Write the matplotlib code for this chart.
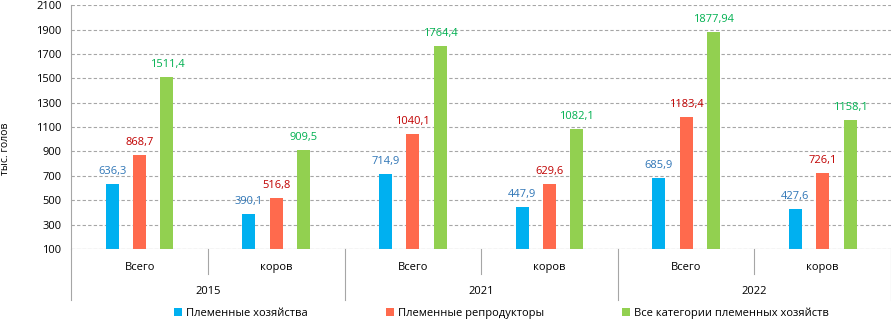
import matplotlib.pyplot as plt
import numpy as np

plt.rcParams['font.family'] = ['Open Sans', 'DejaVu Sans']

years = ['2015', '2021', '2022']
groups = ['Всего', 'коров']
series_names = ['Племенные хозяйства', 'Племенные репродукторы', 'Все категории племенных хозяйств']
plem_hoz = [636.3, 390.1, 714.9, 447.9, 685.9, 427.6]
plem_repr = [868.7, 516.8, 1040.1, 629.6, 1183.4, 726.1]
vse_kat = [1511.4, 909.5, 1764.4, 1082.1, 1877.94, 1158.1]
value_labels = [
    ['636,3', '390,1', '714,9', '447,9', '685,9', '427,6'],
    ['868,7', '516,8', '1040,1', '629,6', '1183,4', '726,1'],
    ['1511,4', '909,5', '1764,4', '1082,1', '1877,94', '1158,1'],
]

bar_colors = ['#00B0F0', '#FF6A4D', '#92D050']
text_colors = ['#2E75B6', '#C00000', '#00B050']
grey = '#A6A6A6'

fig = plt.figure(figsize=(8.91, 3.2), dpi=100)
ax = fig.add_axes([0.08, 0.222, 0.92, 0.762])

x = np.arange(len(plem_hoz))
width = 0.095
offsets = [-0.2, 0.0, 0.2]
base = 100
for i, vals in enumerate([plem_hoz, plem_repr, vse_kat]):
    vals = np.array(vals)
    ax.bar(x + offsets[i], vals - base, width, bottom=base, color=bar_colors[i],
           label=series_names[i], zorder=3)
    for xi, v, lab in zip(x, vals, value_labels[i]):
        ax.annotate(lab, (xi + offsets[i], v), xytext=(0, 5), textcoords='offset points',
                    ha='center', va='bottom', fontsize=8, color=text_colors[i])

ax.set_xlim(-0.5, len(x) - 0.5)
ax.set_ylim(100, 2100)
ax.set_yticks(np.arange(100, 2101, 200))
ax.tick_params(axis='y', labelsize=8, length=0, pad=7)
ax.set_xticks([])
ax.grid(axis='y', linestyle=(0, (3, 2)), color=grey, linewidth=0.8, zorder=0)
for s in ['top', 'right', 'bottom']:
    ax.spines[s].set_visible(False)
ax.spines['left'].set_color(grey)
ax.axhline(100, color=grey, linewidth=0.8, zorder=4)

fig.text(6 / 891, 0.534, 'тыс. голов', rotation=90, ha='center', va='center', fontsize=7.5)

# двухуровневая ось категорий
trans = ax.get_xaxis_transform()
for xi in x:
    ax.text(xi, -0.074, groups[xi % 2], transform=trans, ha='center', va='center', fontsize=8)
for j, yr in enumerate(years):
    ax.text(2 * j + 0.5, -0.176, yr, transform=trans, ha='center', va='center', fontsize=8)
for k in range(len(x) + 1):
    xb = k - 0.5
    low = -0.209 if k % 2 == 0 else -0.102
    ax.plot([xb, xb], [0, low], transform=trans, color=grey, linewidth=0.8, clip_on=False)

fig.legend(loc='center', bbox_to_anchor=(0.563, 0.022), ncol=3, frameon=False,
           fontsize=8, handlelength=0.7, handleheight=0.7, handletextpad=0.4,
           columnspacing=7.0)

fig.savefig('out.png', dpi=100)
